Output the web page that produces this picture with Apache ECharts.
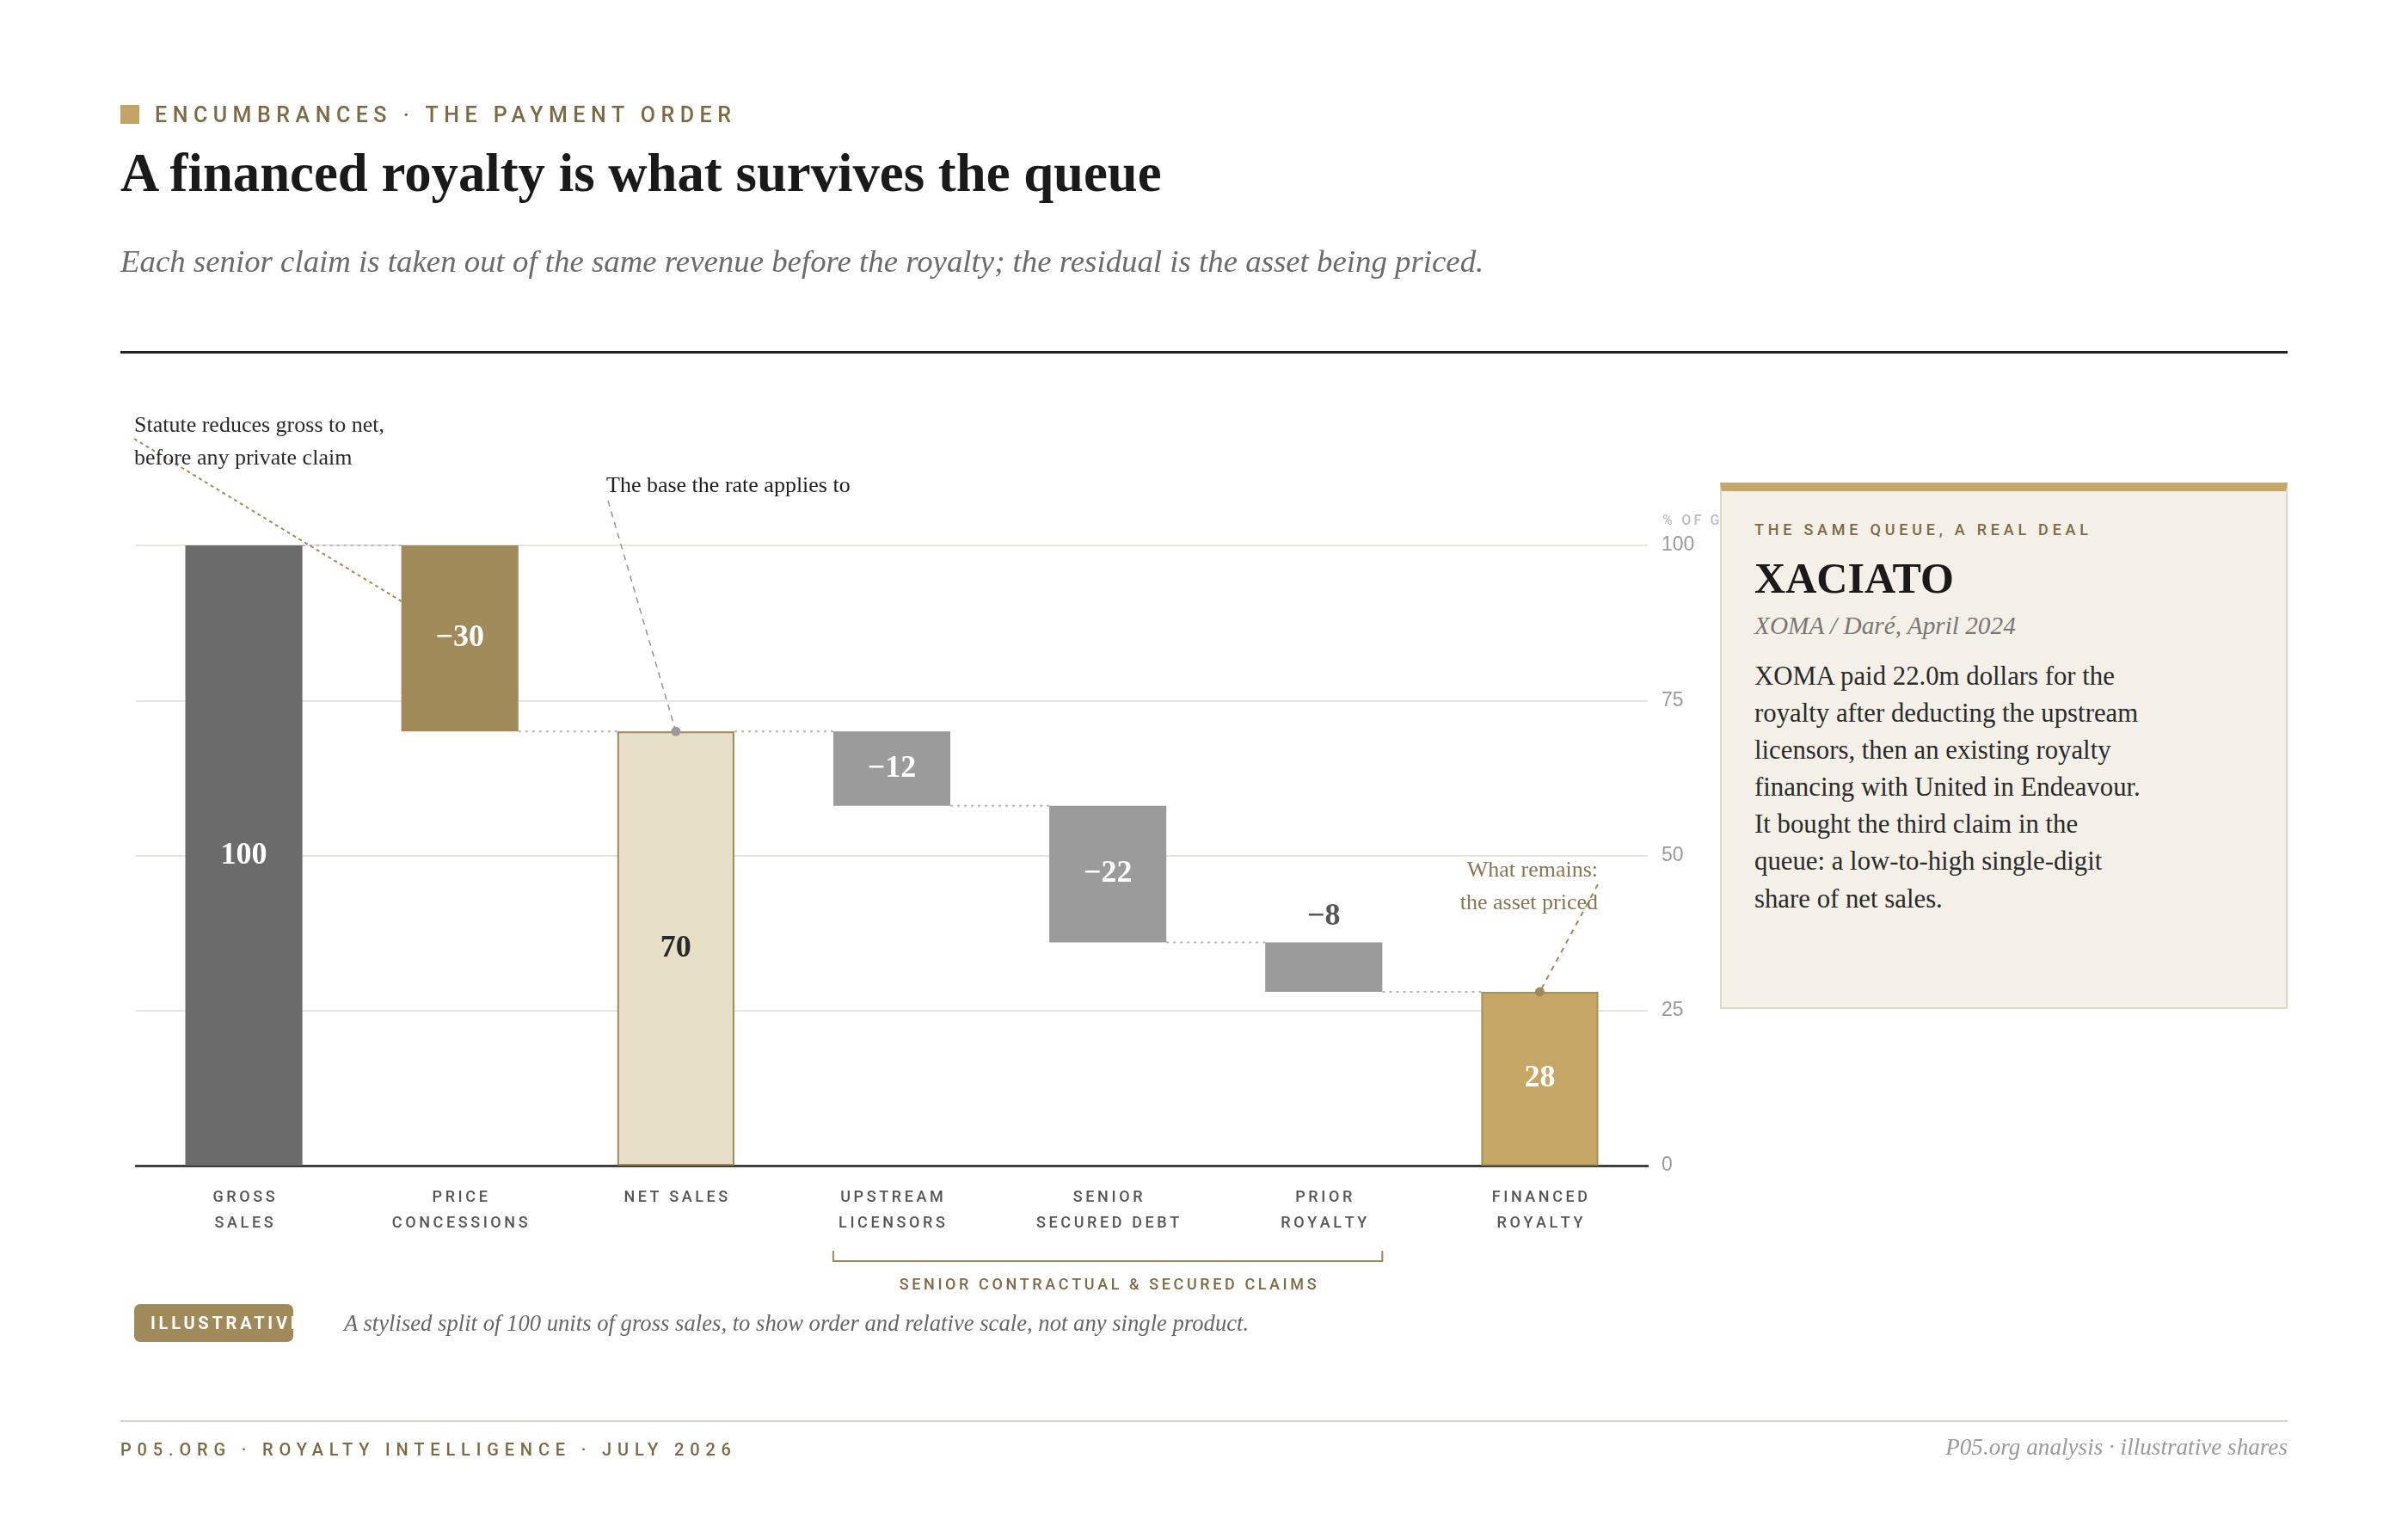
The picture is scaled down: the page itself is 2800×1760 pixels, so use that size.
<!DOCTYPE html>
<html>
<head>
<meta charset="utf-8">
<script src="https://cdn.jsdelivr.net/npm/echarts@6/dist/echarts.min.js"></script>
<style>
html,body{margin:0;padding:0;background:#fff;}
#page{position:relative;width:2800px;height:1760px;overflow:hidden;background:#fff;}
#chart{position:absolute;left:0;top:0;width:2800px;height:1760px;}
.t{position:absolute;white-space:nowrap;margin:0;}
.serif{font-family:"Liberation Serif","DejaVu Serif",serif;}
.sans{font-family:Roboto,"Liberation Sans",sans-serif;font-weight:500;}
.rule{position:absolute;}
#panel{position:absolute;left:2000px;top:561px;width:660px;height:612px;box-sizing:border-box;background:#f4f0e8;border:2px solid #ddd6c8;border-top:10px solid #c6a766;}
#badge{position:absolute;left:156px;top:1516px;width:185px;height:44px;border-radius:7px;background:#a08a5a;overflow:hidden;}
</style>
</head>
<body>
<div id="page">
  <div id="chart"></div>

  <div class="rule" style="left:140px;top:122px;width:22px;height:22px;background:#c4a464;"></div>
  <div class="t sans" id="eyebrow" data-x="180" data-base="142" data-fs="25" data-ws="670" style="color:#7d6a45;">ENCUMBRANCES · THE PAYMENT ORDER</div>
  <div class="t serif" id="title" data-x="140" data-base="223" data-fs="60" data-w="1211" style="color:#1a1a1a;font-weight:bold;">A financed royalty is what survives the queue</div>
  <div class="t serif" id="subtitle" data-x="140" data-base="317" data-fs="38" data-w="1586" style="color:#6b6b6b;font-style:italic;">Each senior claim is taken out of the same revenue before the royalty; the residual is the asset being priced.</div>
  <div class="rule" style="left:140px;top:408px;width:2520px;height:3px;background:#222;"></div>

  <div id="panel"></div>
  <div class="t sans" data-x="2040" data-base="622" data-fs="18" data-ws="388" style="color:#7d6a45;">THE SAME QUEUE, A REAL DEAL</div>
  <div class="t serif" data-x="2040" data-base="689" data-fs="45" data-w="232" style="color:#1a1a1a;font-weight:bold;">XACIATO</div>
  <div class="t serif" data-x="2040" data-base="738" data-fs="28" data-w="304" style="color:#777;font-style:italic;">XOMA / Daré, April 2024</div>
  <div class="t serif" data-x="2040" data-base="797" data-fs="29" data-lh="43.1" data-w="449" style="color:#2a2a2a;">XOMA paid 22.0m dollars for the<br>royalty after deducting the upstream<br>licensors, then an existing royalty<br>financing with United in Endeavour.<br>It bought the third claim in the<br>queue: a low-to-high single-digit<br>share of net sales.</div>

  <div id="badge"><span class="t sans" id="badgeText" style="left:19px;top:0;line-height:44px;font-size:20px;font-weight:700;color:#fff;">ILLUSTRATIVE</span></div>
  <div class="t serif" data-x="400" data-base="1547" data-fs="26" data-w="1053" style="color:#666;font-style:italic;">A stylised split of 100 units of gross sales, to show order and relative scale, not any single product.</div>

  <div class="rule" style="left:140px;top:1651px;width:2520px;height:2px;background:#d9d3c7;"></div>
  <div class="t sans" data-x="140" data-base="1692" data-fs="20" data-ws="710" style="color:#7d6a45;">P05.ORG · ROYALTY INTELLIGENCE · JULY 2026</div>
  <div class="t serif" data-right="2660" data-base="1692" data-fs="26" data-w="398" style="color:#999;font-style:italic;">P05.org analysis · illustrative shares</div>
</div>

<script>
// ---------- data ----------
const categories = ['GROSS\nSALES', 'PRICE\nCONCESSIONS', 'NET SALES', 'UPSTREAM\nLICENSORS', 'SENIOR\nSECURED DEBT', 'PRIOR\nROYALTY', 'FINANCED\nROYALTY'];
const steps = [100, -30, 70, -12, -22, -8, 28];
const stepKind = ['total', 'change', 'total', 'change', 'change', 'change', 'total'];
const yTicks = [0, 25, 50, 75, 100];
const yAxisName = '% OF GROSS';
const groupLabel = 'SENIOR CONTRACTUAL & SECURED CLAIMS';
const groupRange = [3, 5];
const noteStatute = 'Statute reduces gross to net,\nbefore any private claim';
const noteStatuteAnchor = [1, 91];
const noteBase = 'The base the rate applies to';
const noteBaseAnchor = [2, 70];
const noteRemains = 'What remains:\nthe asset priced';
const noteRemainsAnchor = [6, 28];

// ---------- styles ----------
const barFill = ['#6b6b6b', '#a08a5a', '#e8e0c6', '#9b9b9b', '#9b9b9b', '#9b9b9b', '#c6a766'];
const barStroke = [null, null, '#a08a5a', null, null, null, '#a8905c'];
const labelColor = ['#fff', '#fff', '#2a2a2a', '#fff', '#fff', '#555', '#fff'];
const labelPos = ['inside', 'inside', 'inside', 'inside', 'inside', 'top', 'inside'];
const BAR_RATIO = 0.542;
const SERIF = '"Liberation Serif", "DejaVu Serif", serif';

// tracked caps: text drawn in Roboto on the canvas is spaced out glyph by glyph
(function () {
  const proto = CanvasRenderingContext2D.prototype;
  const orig = proto.fillText;
  proto.fillText = function (t, x, y, m) {
    const f = this.font || '';
    const s = t == null ? '' : String(t);
    if (f.indexOf('Roboto') < 0 || s.length < 2) {
      return m === undefined ? orig.call(this, t, x, y) : orig.call(this, t, x, y, m);
    }
    const mm = f.match(/(\d+(?:\.\d+)?)px/);
    const px = mm ? parseFloat(mm[1]) : 16;
    const sp = px * 0.2;
    const chars = Array.from(s);
    const ws = chars.map(c => this.measureText(c).width);
    const total = ws.reduce((a, b) => a + b, 0) + sp * (chars.length - 1);
    const al = this.textAlign;
    let sx = x;
    if (al === 'center') sx = x - total / 2;
    else if (al === 'right' || al === 'end') sx = x - total;
    this.textAlign = 'left';
    let cx = sx;
    chars.forEach((c, k) => { orig.call(this, c, cx, y); cx += ws[k] + sp; });
    this.textAlign = al;
  };
})();

function layoutHtml() {
  document.querySelectorAll('.t[data-base]').forEach(el => {
    let fs = parseFloat(el.dataset.fs);
    el.style.fontSize = fs + 'px';
    if (el.dataset.w) {
      const w = el.getBoundingClientRect().width;
      fs = fs * parseFloat(el.dataset.w) / w;
      el.style.fontSize = fs + 'px';
    }
    if (el.dataset.ws) {
      el.style.letterSpacing = '0px';
      const w = el.getBoundingClientRect().width;
      const n = el.textContent.length;
      el.style.letterSpacing = ((parseFloat(el.dataset.ws) - w) / (n - 1)) + 'px';
    }
    const lh = el.dataset.lh ? parseFloat(el.dataset.lh) : fs;
    el.style.lineHeight = lh + 'px';
    el.style.top = (parseFloat(el.dataset.base) - lh / 2 - 0.34 * fs) + 'px';
    if (el.dataset.right) {
      const w = el.getBoundingClientRect().width;
      el.style.left = (parseFloat(el.dataset.right) - w) + 'px';
    } else {
      el.style.left = el.dataset.x + 'px';
    }
  });
  const b = document.getElementById('badgeText');
  b.style.letterSpacing = '0px';
  const w = b.getBoundingClientRect().width;
  b.style.letterSpacing = ((174 - w) / 11) + 'px';
}

function buildChart() {
  const base = [], height = [], after = [];
  let level = 0;
  steps.forEach((v, i) => {
    if (stepKind[i] === 'total') { base.push(0); height.push(v); level = v; }
    else { const lo = level + v; base.push(lo); height.push(-v); level = lo; }
    after.push(level);
  });
  const fmt = v => (v < 0 ? '\u2212' + Math.abs(v) : String(v));

  const chart = echarts.init(document.getElementById('chart'), null, { renderer: 'canvas' });
  const option = {
    animation: false,
    backgroundColor: 'transparent',
    grid: { left: 158, right: 884, top: 634, bottom: 405, containLabel: false },
    xAxis: {
      type: 'category', data: categories,
      axisLine: { lineStyle: { color: '#222', width: 2.5 } },
      axisTick: { show: false },
      axisLabel: { interval: 0, color: '#555', fontSize: 18, fontFamily: 'Roboto', fontWeight: 500, lineHeight: 30, margin: 22 },
      splitLine: { show: false }
    },
    yAxis: {
      type: 'value', position: 'right', min: yTicks[0], max: yTicks[yTicks.length - 1], interval: yTicks[1] - yTicks[0],
      axisLine: { show: false }, axisTick: { show: false },
      axisLabel: { color: '#9a9a9a', fontSize: 23, fontFamily: '"Liberation Sans", Arial, sans-serif', margin: 16 },
      splitLine: { lineStyle: { color: '#e8e4de', width: 2 } },
      name: yAxisName, nameLocation: 'end', nameGap: 20,
      nameTextStyle: { color: '#bdbdbd', fontSize: 16, fontFamily: 'Roboto', fontWeight: 500, align: 'left', padding: [0, 0, 0, 17] }
    },
    series: [
      {
        type: 'bar', stack: 'w', barWidth: (BAR_RATIO * 100) + '%', silent: true,
        itemStyle: { color: 'rgba(0,0,0,0)' },
        data: base
      },
      {
        type: 'bar', stack: 'w', barWidth: (BAR_RATIO * 100) + '%', silent: true, z: 3,
        data: height.map((h, i) => ({
          value: h,
          itemStyle: {
            color: barFill[i],
            borderColor: barStroke[i] || barFill[i],
            borderWidth: barStroke[i] ? 2 : 0
          },
          label: {
            show: true, position: labelPos[i], distance: 12,
            color: labelColor[i], fontFamily: SERIF, fontSize: 36, fontWeight: 'bold',
            formatter: () => fmt(steps[i])
          }
        }))
      },
      {
        type: 'custom', silent: true, z: 2,
        data: after.slice(0, -1).map((lv, i) => [i, lv]),
        renderItem: (params, api) => {
          const i = api.value(0), lv = api.value(1);
          const bw = api.size([1, 0])[0] * BAR_RATIO;
          const p1 = api.coord([i, lv]), p2 = api.coord([i + 1, lv]);
          return {
            type: 'line',
            shape: { x1: p1[0] + bw / 2, y1: p1[1], x2: p2[0] - bw / 2, y2: p2[1] },
            style: { stroke: '#b8b8b8', lineWidth: 2, lineDash: [3, 5] }
          };
        }
      }
    ]
  };
  chart.setOption(option);

  const px = (c, v) => chart.convertToPixel({ gridIndex: 0 }, [c, v]);
  const hbw = (px(1, 0)[0] - px(0, 0)[0]) * BAR_RATIO / 2;

  const a1 = px(noteStatuteAnchor[0], noteStatuteAnchor[1]);
  const a2 = px(noteBaseAnchor[0], noteBaseAnchor[1]);
  const a3 = px(noteRemainsAnchor[0], noteRemainsAnchor[1]);
  const gL = px(groupRange[0], 0)[0] - hbw;
  const gR = px(groupRange[1], 0)[0] + hbw;

  const txt = (text, x, y, fill, align, extra) => ({
    type: 'text', silent: true, z: 10,
    style: Object.assign({
      text, x, y, fill, align, textAlign: align, verticalAlign: 'top', textVerticalAlign: 'top',
      fontFamily: SERIF, fontSize: 26, lineHeight: 38
    }, extra || {})
  });

  chart.setOption({
    graphic: [
      txt(noteStatute, 156, 476, '#2a2a2a', 'left'),
      { type: 'line', silent: true, z: 9, shape: { x1: 156, y1: 510, x2: a1[0] - hbw, y2: a1[1] },
        style: { stroke: '#a08a5a', lineWidth: 2, lineDash: [4, 4] } },
      txt(noteBase, 705, 546, '#1f1f1f', 'left'),
      { type: 'line', silent: true, z: 9, shape: { x1: 707, y1: 582, x2: a2[0], y2: a2[1] },
        style: { stroke: '#9a9a9a', lineWidth: 1.6, lineDash: [7, 6] } },
      { type: 'circle', silent: true, z: 11, shape: { cx: a2[0], cy: a2[1], r: 5.5 }, style: { fill: '#9a9a9a' } },
      txt(noteRemains, 1858, 993, '#8a7550', 'right'),
      { type: 'line', silent: true, z: 9, shape: { x1: 1858, y1: 1028, x2: a3[0], y2: a3[1] },
        style: { stroke: '#a08a5a', lineWidth: 2, lineDash: [6, 6] } },
      { type: 'circle', silent: true, z: 11, shape: { cx: a3[0], cy: a3[1], r: 5.5 }, style: { fill: '#a08a5a' } },
      { type: 'polyline', silent: true, z: 9,
        shape: { points: [[gL, 1454], [gL, 1466], [gR, 1466], [gR, 1454]] },
        style: { stroke: '#a08a5a', lineWidth: 2, fill: null } },
      { type: 'text', silent: true, z: 10,
        style: { text: groupLabel, x: (gL + gR) / 2, y: 1494, align: 'center', textAlign: 'center',
          verticalAlign: 'middle', textVerticalAlign: 'middle',
          fontFamily: 'Roboto', fontWeight: 500, fontSize: 18, fill: '#7d6a45' } }
    ]
  });
}

function start() { layoutHtml(); buildChart(); }
if (document.fonts && document.fonts.ready) { document.fonts.ready.then(start); } else { start(); }
</script>
</body>
</html>
